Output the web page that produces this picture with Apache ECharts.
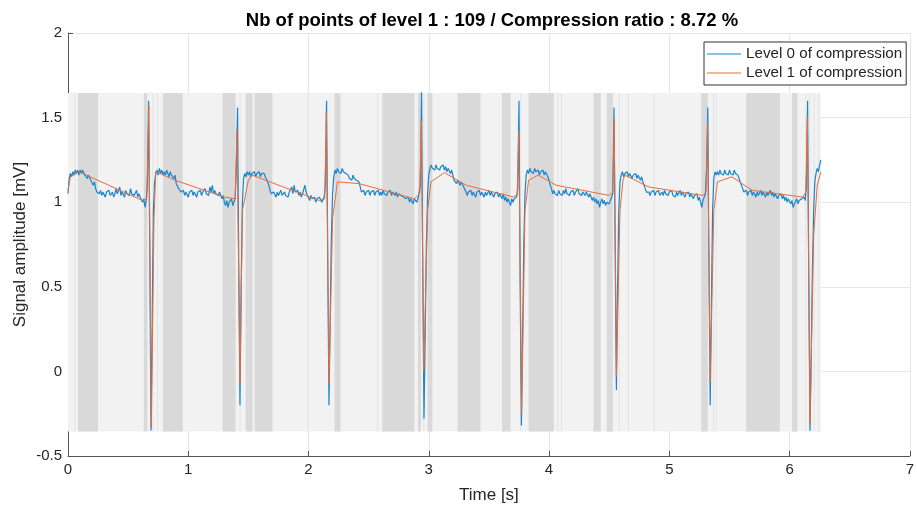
<!DOCTYPE html>
<html>
<head>
<meta charset="utf-8">
<script src="https://cdn.jsdelivr.net/npm/echarts@6/dist/echarts.min.js"></script>
<style>
  html, body { margin: 0; padding: 0; background: #ffffff; }
  #chart { width: 917px; height: 511px; }
</style>
</head>
<body>
<div id="chart"></div>
<script>
// Raw ECG trace (level 0), one value every 10 ms starting at t = 0 s
const sampleStep = 0.01;
const level0 = [
  1.05, 1.14, 1.17, 1.15, 1.18, 1.16, 1.19, 1.17, 1.19, 1.16,
  1.19, 1.17, 1.19, 1.18, 1.16, 1.17, 1.14, 1.16, 1.15, 1.13,
  1.12, 1.10, 1.12, 1.08, 1.06, 1.07, 1.05, 1.07, 1.04, 1.06,
  1.05, 1.03, 1.06, 1.05, 1.07, 1.04, 1.05, 1.06, 1.03, 1.05,
  1.08, 1.05, 1.06, 1.09, 1.04, 1.06, 1.05, 1.03, 1.07, 1.05,
  1.06, 1.04, 1.08, 1.05, 1.06, 1.04, 1.05, 1.07, 1.03, 1.05,
  1.03, 1.04, 1.00, 1.02, 0.97, 1.01, 1.10, 1.60, 0.70, -0.35,
  0.30, 0.95, 1.12, 1.17, 1.19, 1.16, 1.20, 1.17, 1.19, 1.16,
  1.18, 1.16, 1.19, 1.17, 1.15, 1.18, 1.16, 1.17, 1.14, 1.16,
  1.11, 1.12, 1.08, 1.09, 1.06, 1.05, 1.07, 1.04, 1.06, 1.05,
  1.03, 1.06, 1.05, 1.07, 1.04, 1.06, 1.05, 1.03, 1.06, 1.05,
  1.07, 1.04, 1.06, 1.05, 1.08, 1.05, 1.06, 1.04, 1.09, 1.06,
  1.10, 1.05, 1.07, 1.05, 1.06, 1.04, 1.06, 1.05, 1.02, 1.04,
  1.00, 0.98, 1.01, 0.97, 1.00, 0.99, 1.02, 0.98, 1.00, 1.02,
  1.20, 1.56, 0.60, -0.20, 0.50, 1.00, 1.14, 1.17, 1.15, 1.18,
  1.16, 1.18, 1.15, 1.17, 1.16, 1.18, 1.15, 1.17, 1.16, 1.18,
  1.15, 1.17, 1.16, 1.17, 1.15, 1.16, 1.12, 1.10, 1.07, 1.05,
  1.04, 1.06, 1.05, 1.03, 1.06, 1.04, 1.05, 1.07, 1.04, 1.05,
  1.06, 1.04, 1.05, 1.03, 1.06, 1.05, 1.09, 1.05, 1.10, 1.06,
  1.05, 1.07, 1.04, 1.06, 1.03, 1.05, 1.04, 1.10, 1.06, 1.04,
  1.03, 1.01, 1.04, 1.02, 1.01, 1.03, 1.00, 1.02, 1.01, 1.03,
  1.02, 1.00, 1.01, 1.03, 1.10, 1.60, 0.65, -0.20, 0.30, 0.80,
  1.05, 1.15, 1.19, 1.17, 1.20, 1.18, 1.19, 1.17, 1.20, 1.18,
  1.19, 1.17, 1.18, 1.16, 1.14, 1.15, 1.13, 1.16, 1.14, 1.15,
  1.13, 1.14, 1.12, 1.09, 1.06, 1.05, 1.07, 1.04, 1.06, 1.05,
  1.07, 1.04, 1.06, 1.05, 1.07, 1.04, 1.06, 1.05, 1.07, 1.04,
  1.06, 1.04, 1.07, 1.05, 1.06, 1.04, 1.06, 1.05, 1.07, 1.04,
  1.06, 1.05, 1.04, 1.06, 1.03, 1.05, 1.06, 1.04, 1.05, 1.03,
  1.04, 1.02, 1.01, 1.03, 1.00, 1.02, 1.01, 0.99, 1.02, 1.01,
  1.00, 1.02, 1.01, 1.10, 1.65, 0.60, -0.28, 0.20, 0.75, 1.05,
  1.16, 1.20, 1.22, 1.20, 1.21, 1.19, 1.22, 1.20, 1.21, 1.19,
  1.21, 1.20, 1.22, 1.19, 1.21, 1.18, 1.20, 1.19, 1.17, 1.19,
  1.16, 1.13, 1.12, 1.11, 1.13, 1.12, 1.10, 1.12, 1.11, 1.09,
  1.08, 1.06, 1.04, 1.06, 1.05, 1.07, 1.04, 1.06, 1.05, 1.03,
  1.06, 1.05, 1.07, 1.04, 1.06, 1.05, 1.03, 1.06, 1.04, 1.05,
  1.07, 1.04, 1.06, 1.05, 1.03, 1.05, 1.04, 1.06, 1.03, 1.05,
  1.04, 1.02, 1.05, 1.01, 1.03, 1.00, 1.02, 1.01, 0.98, 1.02,
  1.00, 1.02, 1.01, 1.03, 1.08, 1.60, 0.50, -0.32, 0.20, 0.75,
  1.05, 1.16, 1.19, 1.17, 1.20, 1.18, 1.19, 1.17, 1.20, 1.18,
  1.17, 1.19, 1.16, 1.18, 1.17, 1.19, 1.16, 1.18, 1.17, 1.15,
  1.13, 1.10, 1.08, 1.05, 1.07, 1.05, 1.06, 1.04, 1.07, 1.05,
  1.06, 1.04, 1.07, 1.05, 1.08, 1.05, 1.06, 1.04, 1.06, 1.05,
  1.07, 1.04, 1.06, 1.05, 1.08, 1.05, 1.06, 1.04, 1.06, 1.05,
  1.04, 1.06, 1.05, 1.03, 1.05, 1.04, 1.01, 1.03, 1.00, 1.02,
  0.99, 1.01, 0.97, 1.00, 1.02, 0.99, 1.01, 0.98, 1.00, 1.01,
  0.99, 1.01, 1.00, 1.05, 1.56, 0.70, -0.11, 0.50, 0.95, 1.12,
  1.16, 1.18, 1.15, 1.17, 1.16, 1.18, 1.15, 1.17, 1.16, 1.14,
  1.16, 1.15, 1.17, 1.14, 1.16, 1.15, 1.13, 1.15, 1.12, 1.10,
  1.08, 1.06, 1.05, 1.06, 1.04, 1.06, 1.05, 1.07, 1.04, 1.06,
  1.05, 1.07, 1.04, 1.05, 1.06, 1.04, 1.07, 1.05, 1.06, 1.04,
  1.06, 1.05, 1.07, 1.04, 1.05, 1.03, 1.06, 1.04, 1.05, 1.07,
  1.04, 1.06, 1.05, 1.03, 1.05, 1.04, 1.06, 1.03, 1.05, 1.04,
  1.02, 1.04, 1.03, 1.05, 1.01, 1.03, 1.00, 0.97, 1.01, 1.03,
  1.05, 1.20, 1.56, 0.60, -0.20, 0.40, 0.95, 1.14, 1.18, 1.16,
  1.18, 1.16, 1.19, 1.17, 1.18, 1.16, 1.19, 1.17, 1.18, 1.16,
  1.19, 1.17, 1.18, 1.16, 1.19, 1.17, 1.18, 1.16, 1.14, 1.12,
  1.10, 1.08, 1.06, 1.05, 1.07, 1.04, 1.06, 1.05, 1.07, 1.04,
  1.06, 1.05, 1.03, 1.06, 1.04, 1.05, 1.07, 1.04, 1.06, 1.05,
  1.03, 1.06, 1.04, 1.05, 1.07, 1.04, 1.06, 1.03, 1.05, 1.04,
  1.02, 1.04, 1.03, 1.05, 1.02, 1.04, 1.01, 1.03, 1.00, 1.02,
  1.01, 0.99, 1.01, 0.97, 0.99, 1.00, 1.02, 0.99, 1.01, 1.00,
  1.02, 1.01, 1.03, 1.01, 1.10, 1.60, 0.50, -0.35, 0.10, 0.60,
  0.95, 1.12, 1.17, 1.20, 1.18, 1.22, 1.25
];

// Compressed trace (level 1): kept vertices
const level1Time = [
  0.00, 0.02, 0.09, 0.62, 0.655, 0.672, 0.693, 0.715, 0.73, 0.89,
  1.30, 1.39, 1.405, 1.43, 1.45, 1.50, 1.53, 2.09, 2.135, 2.148,
  2.17, 2.20, 2.24, 2.42, 2.88, 2.925, 2.938, 2.958, 2.99, 3.018,
  3.13, 3.31, 3.71, 3.735, 3.748, 3.772, 3.80, 3.83, 3.91, 4.06,
  4.50, 4.53, 4.542, 4.56, 4.59, 4.615, 4.63, 4.83, 5.28, 5.305,
  5.318, 5.34, 5.37, 5.40, 5.52, 5.69, 6.11, 6.135, 6.148, 6.17,
  6.20, 6.23, 6.26
];
const level1Amp = [
  1.07, 1.15, 1.18, 1.01, 1.02, 1.57, -0.33, 0.90, 1.18, 1.13,
  1.03, 1.02, 1.43, -0.07, 0.95, 1.13, 1.16, 1.01, 1.02, 1.53,
  -0.07, 0.90, 1.12, 1.11, 1.02, 1.05, 1.48, 0.00, 0.95, 1.12,
  1.175, 1.10, 1.03, 1.05, 1.42, -0.25, 0.95, 1.13, 1.16, 1.10,
  1.04, 1.06, 1.49, -0.03, 0.95, 1.13, 1.16, 1.09, 1.04, 1.06,
  1.47, -0.06, 0.95, 1.12, 1.15, 1.07, 1.03, 1.06, 1.50, -0.31,
  0.80, 1.10, 1.18
];

// Segmentation shading: darker intervals and thin separators (seconds)
const darkBands = [
  [0.083, 0.249], [0.63, 0.66], [0.79, 0.954], [1.286, 1.394], [1.477, 1.535],
  [1.552, 1.70], [2.216, 2.266], [2.614, 2.88], [2.91, 2.935], [2.99, 3.03],
  [3.24, 3.43], [3.61, 3.68], [3.83, 4.04], [4.37, 4.43], [4.48, 4.53],
  [5.265, 5.32], [5.64, 5.92], [6.02, 6.065]
];
const separators = [
  0.055, 0.70, 0.74, 1.427, 1.99, 2.57, 2.61, 2.954, 3.76, 4.07,
  4.10, 4.58, 4.655, 4.87, 5.36, 5.385, 6.13, 6.165, 6.20, 6.235
];
const shadeSpan = [0, 6.26];
const shadeLevels = [-0.355, 1.645];

const titleText = 'Nb of points of level 1 : 109 / Compression ratio : 8.72 %';
const seriesNames = ['Level 0 of compression', 'Level 1 of compression'];

// ---- build series data ----
const level0Data = level0.map((v, i) => [i * sampleStep, v]);
const level1Data = level1Time.map((t, i) => [t, level1Amp[i]]);

const SHADE_COLORS = ['#f2f2f2', '#d9d9d9', '#e4e4e4'];
const shadeData = [[shadeSpan[0], shadeSpan[1], shadeLevels[0], shadeLevels[1], 0]];
darkBands.forEach(b => shadeData.push([b[0], b[1], shadeLevels[0], shadeLevels[1], 1]));
separators.forEach(s => shadeData.push([s, s, shadeLevels[0], shadeLevels[1], 2]));

const BLUE = '#1a84cc';
const ORANGE = '#e56d3c';
const FONT = '"Liberation Sans", Arial, Helvetica, sans-serif';
const chart = echarts.init(document.getElementById('chart'), null, { renderer: 'canvas' });

chart.setOption({
  animation: false,
  backgroundColor: '#ffffff',
  title: {
    text: titleText,
    left: 487,
    textAlign: 'center',
    top: 6,
    textStyle: { fontFamily: FONT, fontSize: 18.5, fontWeight: 'bold', color: '#000000' }
  },
  legend: {
    data: seriesNames.map(n => ({ name: n, icon: 'rect' })),
    orient: 'vertical',
    left: 704,
    top: 42,
    itemWidth: 34,
    itemHeight: 1.2,
    itemGap: 3,
    padding: [4, 4, 4, 3],
    backgroundColor: '#ffffff',
    borderColor: '#333333',
    borderWidth: 1,
    textStyle: { fontFamily: FONT, fontSize: 15.2, lineHeight: 16, color: '#262626' }
  },
  grid: { left: 68, right: 6, top: 33, bottom: 55, containLabel: false },
  xAxis: {
    type: 'value',
    min: 0, max: 7, interval: 1,
    name: 'Time [s]',
    nameLocation: 'middle',
    nameGap: 31,
    nameTextStyle: { fontFamily: FONT, fontSize: 17, color: '#262626' },
    axisLine: { show: true, onZero: false, lineStyle: { color: '#555555', width: 1 } },
    axisTick: { show: true, inside: true, length: 5, lineStyle: { color: '#555555' } },
    axisLabel: { fontFamily: FONT, fontSize: 15, color: '#262626', margin: 6 },
    splitLine: { show: true, lineStyle: { color: '#e6e6e6', width: 1 } }
  },
  yAxis: {
    type: 'value',
    min: -0.5, max: 2, interval: 0.5,
    name: 'Signal amplitude [mV]',
    nameLocation: 'middle',
    nameGap: 39,
    nameMoveOverlap: false,
    nameTextStyle: { fontFamily: FONT, fontSize: 17, color: '#262626' },
    axisLine: { show: true, onZero: false, lineStyle: { color: '#555555', width: 1 } },
    axisTick: { show: true, inside: true, length: 5, lineStyle: { color: '#555555' } },
    axisLabel: { fontFamily: FONT, fontSize: 15, color: '#262626', margin: 6 },
    splitLine: { show: true, lineStyle: { color: '#e6e6e6', width: 1 } }
  },
  series: [
    {
      type: 'custom',
      name: 'shading',
      silent: true,
      z: 1,
      data: shadeData,
      encode: { x: [0, 1], y: [2, 3] },
      renderItem: function (params, api) {
        const p0 = api.coord([api.value(0), api.value(3)]);
        const p1 = api.coord([api.value(1), api.value(2)]);
        const kind = api.value(4);
        const w = Math.max(p1[0] - p0[0], 1);
        return {
          type: 'rect',
          shape: { x: p0[0], y: p0[1], width: w, height: p1[1] - p0[1] },
          style: { fill: SHADE_COLORS[kind] }
        };
      }
    },
    {
      type: 'line',
      name: seriesNames[0],
      data: level0Data,
      symbol: 'none',
      showSymbol: false,
      z: 3,
      lineStyle: { color: BLUE, width: 1.2 },
      itemStyle: { color: BLUE }
    },
    {
      type: 'line',
      name: seriesNames[1],
      data: level1Data,
      symbol: 'none',
      showSymbol: false,
      z: 4,
      lineStyle: { color: ORANGE, width: 1 },
      itemStyle: { color: ORANGE }
    }
  ]
});
</script>
</body>
</html>
